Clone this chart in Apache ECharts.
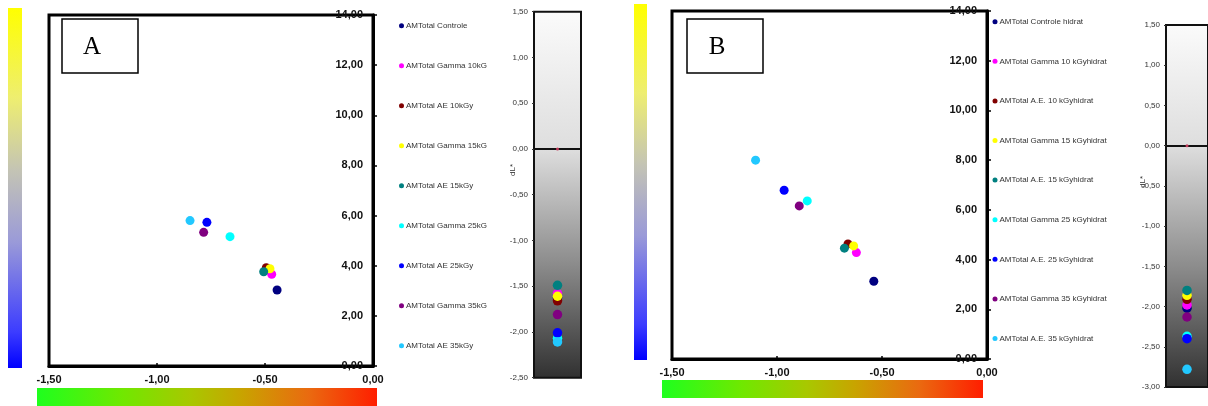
<!DOCTYPE html>
<html>
<head>
<meta charset="utf-8">
<script src="https://cdn.jsdelivr.net/npm/echarts@6/dist/echarts.min.js"></script>
<style>
html,body{margin:0;padding:0;background:#fff;}
#chart{width:1208px;height:406px;}
</style>
</head>
<body>
<div id="chart"></div>
<script>
// ---------- DATA ----------
const namesA = ['AMTotal Controle','AMTotal Gamma 10kGy','AMTotal AE 10kGy','AMTotal Gamma 15kGy','AMTotal AE 15kGy','AMTotal Gamma 25kGy','AMTotal AE 25kGy','AMTotal Gamma 35kGy','AMTotal AE 35kGy'];
const namesB = ['AMTotal Controle hidrat','AMTotal Gamma 10 kGyhidrat','AMTotal A.E. 10 kGyhidrat','AMTotal Gamma 15 kGyhidrat','AMTotal A.E. 15 kGyhidrat','AMTotal Gamma 25 kGyhidrat','AMTotal A.E. 25 kGyhidrat','AMTotal Gamma 35 kGyhidrat','AMTotal A.E. 35 kGyhidrat'];
// da* (x), db* (y), dL* values
const daA = [-0.444, -0.469, -0.494, -0.477, -0.506, -0.662, -0.769, -0.784, -0.847];
const dbA = [3.03, 3.66, 3.92, 3.88, 3.76, 5.16, 5.73, 5.33, 5.80];
const dLA = [-1.63, -1.58, -1.66, -1.61, -1.49, -2.07, -2.01, -1.81, -2.11];
const daB = [-0.539, -0.622, -0.662, -0.635, -0.679, -0.856, -0.966, -0.894, -1.102];
const dbB = [3.13, 4.28, 4.63, 4.55, 4.46, 6.36, 6.79, 6.16, 8.00];
const dLB = [-2.02, -1.98, -1.91, -1.86, -1.80, -2.37, -2.40, -2.13, -2.78];
const dLZeroRef = [0];
const panelLabels = ['A', 'B'];
const dLAxisName = 'dL*';

// ---------- STYLE ----------
const colors = ['#000080','#FF00FF','#800000','#FFFF00','#008080','#00FFFF','#0000FF','#800080','#22C8FF'];
const FONT = 'Liberation Sans, Arial, sans-serif';
const fmt = v => (Math.abs(v) < 1e-9 ? 0 : v).toFixed(2).replace('.', ',');

function mainX(gi){
  return {gridIndex: gi, type:'value', min:-1.5, max:0, interval:0.5,
    axisLine:{show:true, onZero:false, lineStyle:{color:'#000', width:3}},
    axisTick:{show:true, inside:true, length:3, lineStyle:{color:'#000', width:1.5}},
    axisLabel:{show:true, formatter:fmt, color:'#111', fontFamily:FONT, fontSize:11, fontWeight:'bold', margin:8},
    splitLine:{show:false}};
}
function mainY(gi){
  return {gridIndex: gi, type:'value', min:0, max:14, interval:2, position:'right',
    axisLine:{show:true, onZero:false, lineStyle:{color:'#000', width:3}},
    axisTick:{show:true, inside:false, length:4, lineStyle:{color:'#000', width:1.5}},
    axisLabel:{show:true, inside:true, formatter:fmt, color:'#111', fontFamily:FONT, fontSize:11, fontWeight:'bold', margin:10},
    splitLine:{show:false}};
}
function dlX(gi){
  return {gridIndex: gi, type:'value', min:0, max:2, show:true,
    axisLine:{show:true, onZero:true, lineStyle:{color:'#111', width:2}},
    axisTick:{show:false}, axisLabel:{show:false}, splitLine:{show:false}};
}
function dlY(gi, mn, mx){
  return {gridIndex: gi, type:'value', min:mn, max:mx, interval:0.5, position:'left',
    axisLine:{show:false},
    axisTick:{show:true, inside:false, length:2, lineStyle:{color:'#333'}},
    axisLabel:{show:true, formatter:fmt, color:'#333', fontFamily:FONT, fontSize:8, margin:6},
    splitLine:{show:false}};
}
function dlBg(zeroFrac){
  return {type:'linear', x:0, y:0, x2:0, y2:1, colorStops:[
    {offset:0, color:'#fbfbfb'},
    {offset:zeroFrac, color:'#dedede'},
    {offset:zeroFrac + (1-zeroFrac)*0.5, color:'#8c8c8c'},
    {offset:1, color:'#303030'}]};
}

const series = [];
function addSeries(names, da, db, dl, gMain, gDl){
  names.forEach((n, i) => {
    series.push({name:n, type:'scatter', xAxisIndex:gMain, yAxisIndex:gMain,
      symbolSize:9, itemStyle:{color:colors[i], opacity:1},
      data:[[da[i], db[i]]], z:2+i});
    series.push({name:n, type:'scatter', xAxisIndex:gDl, yAxisIndex:gDl,
      symbolSize:9.5, itemStyle:{color:colors[i], opacity:1},
      data:[[1, dl[i]]], z:2+i});
  });
  series.push({name:'_ref'+gDl, type:'scatter', xAxisIndex:gDl, yAxisIndex:gDl,
    symbolSize:3, itemStyle:{color:'#c03a5a', opacity:1}, data:dLZeroRef.map(v=>[1, v]), z:20});
}
addSeries(namesA, daA, dbA, dLA, 0, 1);
addSeries(namesB, daB, dbB, dLB, 2, 3);

const vGrad = {type:'linear', x:0, y:0, x2:0, y2:1, colorStops:[
  {offset:0, color:'#ffff00'}, {offset:0.25, color:'#eeee70'}, {offset:0.45, color:'#c4c4b4'},
  {offset:0.65, color:'#9a9ad8'}, {offset:0.9, color:'#3c3cff'}, {offset:1, color:'#0000ff'}]};
const hGrad = {type:'linear', x:0, y:0, x2:1, y2:0, colorStops:[
  {offset:0, color:'#1eff1e'}, {offset:0.25, color:'#70e800'}, {offset:0.45, color:'#a8c800'},
  {offset:0.6, color:'#c8a400'}, {offset:0.8, color:'#ea6a10'}, {offset:1, color:'#ff1e00'}]};

const legendCommon = {orient:'vertical', icon:'circle', itemWidth:5, itemHeight:5, padding:0,
  textStyle:{fontFamily:FONT, fontSize:8, color:'#333', lineHeight:10, padding:[0,0,0,-3]},
  selectedMode:false};

const option = {
  animation:false,
  backgroundColor:'#fff',
  grid:[
    {left:49, top:15, width:324, height:351, show:true, borderColor:'#000', borderWidth:3, backgroundColor:'#fff'},
    {left:534, top:11.7, width:47, height:366, show:true, borderColor:'#111', borderWidth:2, backgroundColor:dlBg(0.375)},
    {left:672, top:11, width:315, height:348, show:true, borderColor:'#000', borderWidth:3, backgroundColor:'#fff'},
    {left:1166, top:25, width:44, height:362, show:true, borderColor:'#111', borderWidth:2, backgroundColor:dlBg(1.5/4.5)}
  ],
  xAxis:[mainX(0), dlX(1), mainX(2), dlX(3)],
  yAxis:[mainY(0), dlY(1, -2.5, 1.5), mainY(2), dlY(3, -3, 1.5)],
  legend:[
    Object.assign({}, legendCommon, {left:399, top:20.7, itemGap:30, data:namesA,
      textStyle:Object.assign({}, legendCommon.textStyle, {width:84, overflow:'truncate', ellipsis:''})}),
    Object.assign({}, legendCommon, {left:992.5, top:16.7, itemGap:29.6, data:namesB})
  ],
  graphic:[
    {type:'rect', shape:{x:8, y:8, width:14, height:360}, style:{fill:vGrad}, silent:true},
    {type:'rect', shape:{x:37, y:388, width:340, height:20}, style:{fill:hGrad}, silent:true},
    {type:'rect', shape:{x:634, y:4, width:13, height:356}, style:{fill:vGrad}, silent:true},
    {type:'rect', shape:{x:662, y:380, width:321, height:18}, style:{fill:hGrad}, silent:true},
    {type:'rect', shape:{x:62, y:19, width:76, height:54}, style:{fill:'#fff', stroke:'#000', lineWidth:1.5}, z:50},
    {type:'text', x:92, y:47, style:{text:panelLabels[0], font:'25px "Liberation Serif", "Times New Roman", serif', fill:'#000', align:'center', verticalAlign:'middle'}, z:51},
    {type:'rect', shape:{x:687, y:19, width:76, height:54}, style:{fill:'#fff', stroke:'#000', lineWidth:1.5}, z:50},
    {type:'text', x:717, y:47, style:{text:panelLabels[1], font:'25px "Liberation Serif", "Times New Roman", serif', fill:'#000', align:'center', verticalAlign:'middle'}, z:51},
    {type:'text', x:513, y:170, rotation:Math.PI/2, style:{text:dLAxisName, font:'8px "Liberation Sans", Arial, sans-serif', fill:'#333', align:'center', verticalAlign:'middle'}, z:51},
    {type:'text', x:1143, y:182, rotation:Math.PI/2, style:{text:dLAxisName, font:'8px "Liberation Sans", Arial, sans-serif', fill:'#333', align:'center', verticalAlign:'middle'}, z:51}
  ],
  series: series
};

const chart = echarts.init(document.getElementById('chart'), null, {renderer:'canvas'});
chart.setOption(option);
</script>
</body>
</html>
